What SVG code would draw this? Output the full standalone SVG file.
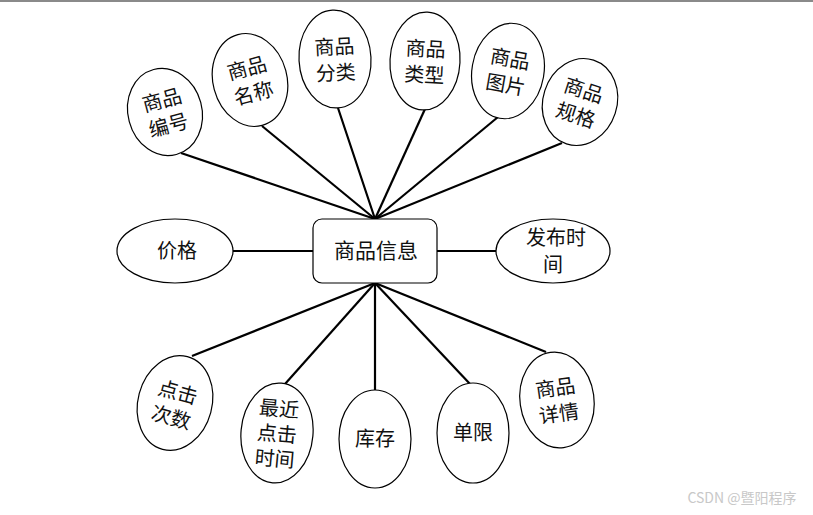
<svg xmlns="http://www.w3.org/2000/svg" width="813" height="515" viewBox="0 0 813 515">
<style>
.e{fill:#fff;stroke:#000;stroke-width:1.2}
.t{font-family:"Noto Sans CJK SC","Noto Sans",sans-serif;font-size:20px;fill:#111;text-anchor:middle}
.c line{stroke:#000;stroke-width:2.2}
</style>
<rect x="0" y="0" width="813" height="515" fill="#fff"/>
<rect x="0" y="0" width="813" height="2" fill="#8a8a8a"/>
<g class="c" id="connectors">
<line x1="181" y1="153" x2="375" y2="219"/>
<line x1="262" y1="126" x2="375" y2="219"/>
<line x1="338" y1="108" x2="375" y2="219"/>
<line x1="425" y1="109" x2="375" y2="219"/>
<line x1="498" y1="117" x2="375" y2="219"/>
<line x1="562" y1="143" x2="375" y2="219"/>
<line x1="232" y1="251" x2="313" y2="251"/>
<line x1="437" y1="251" x2="496" y2="251"/>
<line x1="192" y1="356" x2="375" y2="283"/>
<line x1="285" y1="384" x2="375" y2="283"/>
<line x1="375" y1="390" x2="375" y2="283"/>
<line x1="470" y1="384" x2="375" y2="283"/>
<line x1="546" y1="352" x2="375" y2="283"/>
</g>
<g id="center"><rect x="313" y="219" width="124" height="64" rx="9" class="e"/><text class="t" x="376" y="258" style="font-size:21px">商品信息</text></g>
<g id="n1" transform="translate(165,112) rotate(-15)"><ellipse class="e" rx="37" ry="44"/><text class="t" y="-5">商品</text><text class="t" y="21">编号</text></g>
<g id="n2" transform="translate(250,80) rotate(-15)"><ellipse class="e" rx="37" ry="47"/><text class="t" y="-5">商品</text><text class="t" y="21">名称</text></g>
<g id="n3" transform="translate(335,59) rotate(-3)"><ellipse class="e" rx="36" ry="49"/><text class="t" y="-5">商品</text><text class="t" y="21">分类</text></g>
<g id="n4" transform="translate(425,61) rotate(3)"><ellipse class="e" rx="35" ry="49"/><text class="t" y="-5">商品</text><text class="t" y="21">类型</text></g>
<g id="n5" transform="translate(508,71) rotate(10)"><ellipse class="e" rx="36" ry="48"/><text class="t" y="-5">商品</text><text class="t" y="21">图片</text></g>
<g id="n6" transform="translate(580,102) rotate(18)"><ellipse class="e" rx="37" ry="44"/><text class="t" y="-5">商品</text><text class="t" y="21">规格</text></g>
<g id="n7"><ellipse class="e" cx="175" cy="251" rx="58" ry="32"/><text class="t" x="177" y="258">价格</text></g>
<g id="n8"><ellipse class="e" cx="553" cy="251" rx="57" ry="32"/><text class="t" x="556" y="245">发布时</text><text class="t" x="553" y="272">间</text></g>
<g id="n9" transform="translate(175,403) rotate(15)"><ellipse class="e" rx="37" ry="48"/><text class="t" y="-4">点击</text><text class="t" y="22">次数</text></g>
<g id="n10" transform="translate(277,433) rotate(5)"><ellipse class="e" rx="36" ry="50"/><text class="t" y="-17">最近</text><text class="t" y="8">点击</text><text class="t" y="33">时间</text></g>
<g id="n11"><ellipse class="e" cx="375" cy="439" rx="36" ry="49"/><text class="t" x="375" y="446">库存</text></g>
<g id="n12"><ellipse class="e" cx="473" cy="433" rx="36" ry="50"/><text class="t" x="473" y="440">单限</text></g>
<g id="n13" transform="translate(557,400) rotate(-8)"><ellipse class="e" rx="37" ry="48"/><text class="t" y="-5">商品</text><text class="t" y="21">详情</text></g>
<text x="742" y="503" style="font-family:'Noto Sans CJK SC','Noto Sans',sans-serif;font-size:14px;fill:#c8c8c8;text-anchor:middle">CSDN @暨阳程序</text>
</svg>
